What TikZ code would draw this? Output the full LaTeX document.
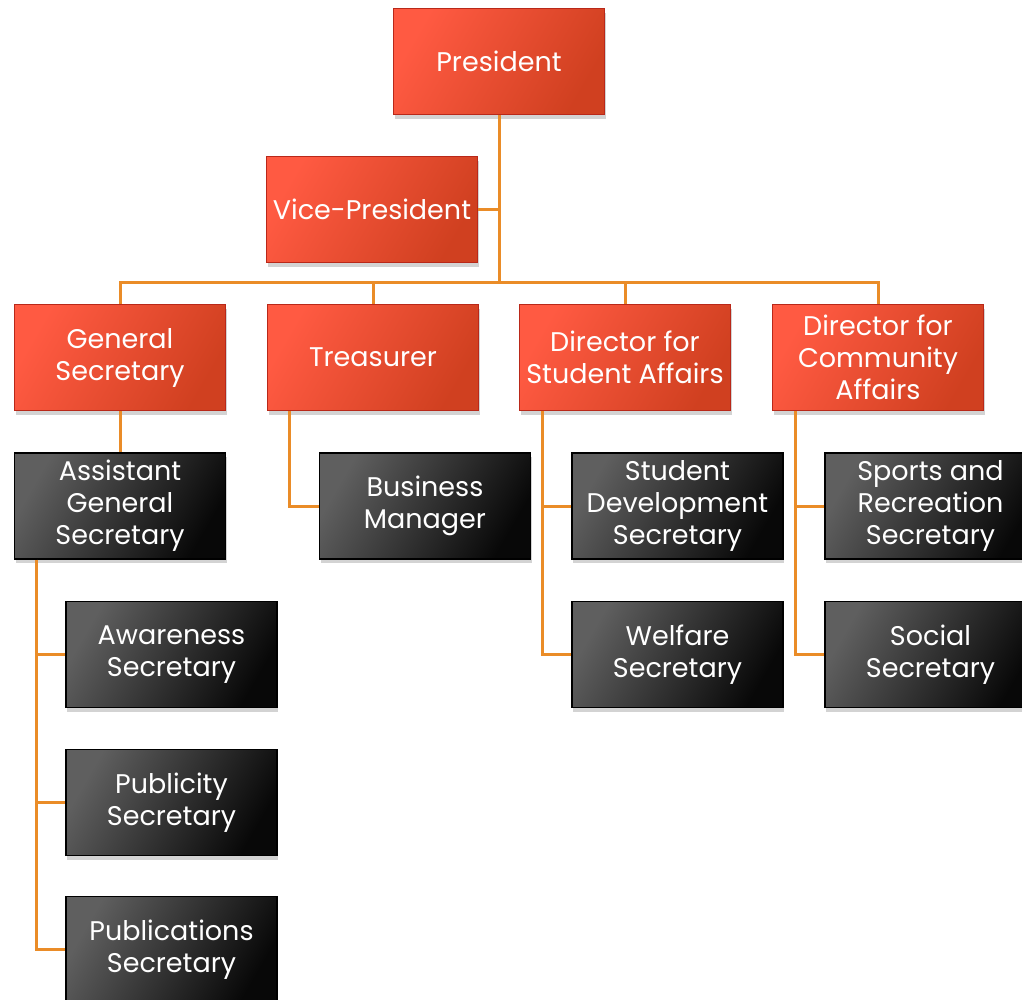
\documentclass[tikz,border=0pt]{standalone}
\usepackage{fontspec}
\setmainfont{Poppins}
\usetikzlibrary{shadows}
\definecolor{redA}{RGB}{255,90,66}
\definecolor{redB}{RGB}{208,64,32}
\definecolor{redD}{RGB}{185,40,25}
\definecolor{grayA}{RGB}{95,95,95}
\definecolor{grayB}{RGB}{8,8,8}
\definecolor{conn}{RGB}{234,140,40}
\tikzset{
  x=1pt, y=-1pt,
  boxbase/.style={rectangle, minimum width=211pt, minimum height=106pt, inner sep=2pt,
    align=center, text=white, font=\fontsize{27}{32}\selectfont, line width=1.2pt,
    drop shadow={opacity=0.35, shadow xshift=1pt, shadow yshift=-4pt}},
  redbox/.style={boxbase, draw=redD, top color=redA, bottom color=redB, shading angle=60},
  darkbox/.style={boxbase, draw=black, top color=grayA, bottom color=grayB, shading angle=60},
  link/.style={draw=conn, line width=3pt}
}
\begin{document}
\begin{tikzpicture}
\useasboundingbox (0,0) rectangle (1022,999);
\clip (0,0) rectangle (1022,999);
\node[redbox] (P) at (499,61.5) {President};
\node[redbox] (VP) at (372,209.5) {Vice-President};
\node[redbox] (GS) at (120,357.5) {General\\Secretary};
\node[redbox] (T) at (373,357.5) {Treasurer};
\node[redbox] (DSA) at (625,357.5) {Director for\\Student Affairs};
\node[redbox] (DCA) at (878,357.5) {Director for\\Community\\Affairs};
\coordinate (j) at (499,282);
\draw[link] (P.south) -- (j);
\draw[link] (VP.east) -- (VP.east -| j);
\draw[link] (GS.north) |- (j) -| (DCA.north);
\draw[link] (T.north) -- (T.north |- j);
\draw[link] (DSA.north) -- (DSA.north |- j);
\node[darkbox] (AGS) at (120,506) {Assistant\\General\\Secretary};
\node[darkbox] (BM) at (425,506) {Business\\Manager};
\node[darkbox] (SDS) at (677.5,506) {Student\\Development\\Secretary};
\node[darkbox] (SRS) at (930.5,506) {Sports and\\Recreation\\Secretary};
\node[darkbox] (AS) at (171.5,654.5) {Awareness\\Secretary};
\node[darkbox] (WS) at (677.5,654.5) {Welfare\\Secretary};
\node[darkbox] (SS) at (930.5,654.5) {Social\\Secretary};
\node[darkbox] (PS) at (171.5,802.5) {Publicity\\Secretary};
\node[darkbox] (PUB) at (171.5,949.5) {Publications\\Secretary};
\draw[link] (GS.south) -- (AGS.north);
\draw[link] ([xshift=-84pt]T.south) |- (BM.west);
\draw[link] ([xshift=-83pt]DSA.south) |- (WS.west);
\draw[link] ([xshift=-83pt]DSA.south |- SDS.west) -- (SDS.west);
\draw[link] ([xshift=-83pt]DCA.south) |- (SS.west);
\draw[link] ([xshift=-83pt]DCA.south |- SRS.west) -- (SRS.west);
\draw[link] ([xshift=-84pt]AGS.south) |- (PUB.west);
\draw[link] ([xshift=-84pt]AGS.south |- AS.west) -- (AS.west);
\draw[link] ([xshift=-84pt]AGS.south |- PS.west) -- (PS.west);
\end{tikzpicture}
\end{document}
